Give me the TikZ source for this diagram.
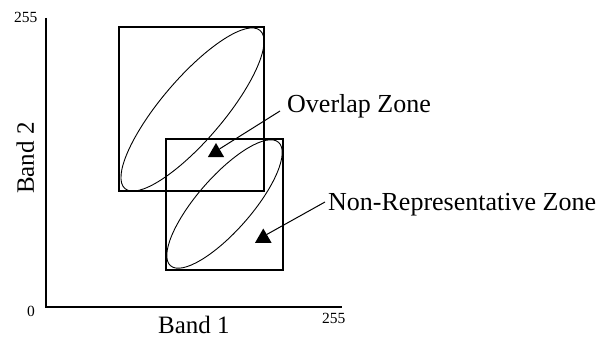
\documentclass[tikz,border=0pt]{standalone}
\usepackage{fontspec}
\setmainfont{Liberation Serif}
\usetikzlibrary{shapes.geometric}
\begin{document}
\begin{tikzpicture}[x=1pt,y=-1pt,
  axis/.style={line width=2.3pt},
  zonebox/.style={line width=2pt},
  cluster/.style={line width=0.9pt},
  marker/.style={regular polygon, regular polygon sides=3, fill=black, inner sep=0pt, minimum size=19pt},
  label/.style={inner sep=0pt, anchor=base west, font=\fontsize{26}{30}\selectfont},
  axlabel/.style={inner sep=0pt, anchor=base west, font=\fontsize{25}{29}\selectfont},
  tick/.style={inner sep=0pt, anchor=base west, font=\fontsize{15.5}{18}\selectfont},
  pointer/.style={line width=1pt}]
\useasboundingbox (0,0) rectangle (598,337);
% axes
\coordinate (top) at (46,18);
\coordinate (origin) at (46,307);
\coordinate (right) at (342,307);
\draw[axis] (top) -- (origin) -- (right);
\node[tick] (t255y) at (14,23) {255};
\node[tick] (t0) at (27,316) {0};
\node[tick] (t255x) at (322,323) {255};
\node[axlabel] (b1) at (158,333) {Band 1};
\node[axlabel, rotate=90] (b2) at (34,194) {Band 2};
% boxes
\draw[zonebox] (119,27) rectangle (264,191);
\draw[zonebox] (166,139) rectangle (283,270);
% ellipses
\draw[cluster, rotate around={49.5:(192.5,109.5)}] (192.5,109.5) ellipse [x radius=104, y radius=31];
\draw[cluster, rotate around={48.8:(224.5,204)}] (224.5,204) ellipse [x radius=82, y radius=27];
% markers
\node[marker] (m1) at (216,152.5) {};
\node[marker] (m2) at (263.3,238) {};
% labels
\node[label] (ov) at (287,113) {Overlap Zone};
\node[label] (nr) at (328,210) {Non-Representative Zone};
\coordinate (ovs) at (280,111);
\coordinate (nrs) at (325,202);
\draw[pointer] (ovs) -- (m1.north east);
\draw[pointer] (nrs) -- (m2.north east);
\end{tikzpicture}
\end{document}
